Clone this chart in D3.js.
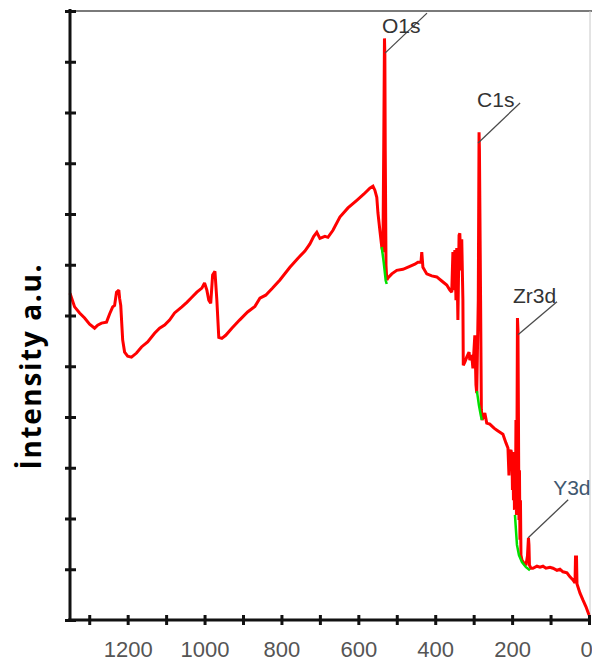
<!DOCTYPE html>
<html>
<head>
<meta charset="utf-8">
<script src="https://cdn.jsdelivr.net/npm/d3@7/dist/d3.min.js"></script>
<style>
  html, body { margin: 0; padding: 0; background: #fff; }
  svg { display: block; }
</style>
</head>
<body>
<svg id="chart" width="592" height="664"></svg>
<script>
// XPS survey spectrum: binding energy (eV) vs. intensity (kcounts, arbitrary units)
const bindingEnergy = [
  1350, 1338, 1325, 1312, 1299, 1286, 1278, 1268, 1255, 1247, 1239, 1234, 1229, 1223, 1221, 1218,
  1213, 1208, 1200, 1190, 1177, 1164, 1148, 1130, 1117, 1104, 1091, 1078, 1059, 1046, 1033, 1020,
  1007, 1000, 994, 989, 984, 979, 973, 968, 963, 955, 945, 929, 909, 888, 869, 856,
  841, 823, 804, 778, 757, 739, 726, 716, 708, 700, 687, 679, 666, 648, 627, 604,
  586, 570, 562, 557, 552, 549, 544, 539, 536, 534, 532, 531, 530, 528, 526, 523,
  513, 500, 484, 466, 453, 445, 437, 435, 432, 422, 409, 396, 383, 370, 362, 357,
  354, 351, 349, 346, 344, 341, 338, 336, 333, 331, 328, 327, 323, 318, 312, 310,
  305, 302, 297, 294, 292, 288, 286, 285, 282, 280, 278, 271, 266, 258, 247, 239.5,
  231.7, 223.9, 216, 210.8, 208.2, 205.6, 203, 200.4, 199.1, 197.8, 196.5, 195.2, 193.9, 192.6, 191.3,
  190, 188.7, 187.4, 186.1, 184.8, 183.5, 182.2, 180.9, 179.6, 178.3, 177, 174.4, 169.2, 164,
  160.1, 157.5, 156.2, 154.9, 151, 145.8, 135.4, 127.5, 119.7, 111.9, 101.5, 93.7, 83.3, 75.5,
  67.7, 57.3, 49.5, 41.6, 36.4, 35.1, 32.5, 31.2, 23.4, 15.6, 7.8, 0
];
const intensity = [
  64.4, 61.7, 60.5, 59.5, 58.3, 57.5, 58.1, 58.5, 58.7, 60.3, 61.7, 62.0, 64.6, 65.0, 63.4, 62.0,
  55.2, 52.8, 52.0, 51.8, 52.6, 53.8, 54.8, 56.5, 57.5, 58.1, 59.1, 60.5, 61.7, 62.6, 63.6, 64.6,
  65.4, 66.4, 65.0, 63.0, 62.4, 68.0, 68.7, 63.0, 55.7, 55.5, 56.1, 57.5, 59.1, 60.7, 61.8, 63.4,
  64.0, 65.4, 67.0, 69.5, 71.3, 72.7, 74.1, 75.6, 76.4, 75.2, 75.6, 75.4, 76.8, 79.4, 81.2, 82.7,
  83.9, 85.1, 85.5, 84.7, 83.3, 80.2, 76.8, 73.5, 72.5, 92.6, 114.6, 111.3, 92.6, 69.9, 67.0, 67.4,
  68.2, 68.9, 69.1, 69.7, 70.1, 70.5, 70.5, 72.5, 69.5, 68.2, 67.8, 67.6, 66.8, 66.0, 65.0, 64.6,
  72.5, 65.0, 72.9, 63.0, 73.3, 59.1, 75.8, 76.2, 68.9, 75.0, 63.0, 50.2, 50.8, 51.8, 52.8, 51.2,
  52.2, 49.6, 56.1, 46.3, 44.7, 63.0, 96.1, 92.6, 63.0, 41.4, 39.4, 40.8, 38.8, 38.6, 37.8, 37.4,
  37.0, 36.6, 34.9, 33.9, 28.5, 33.1, 33.5, 32.5, 25.6, 33.1, 23.6, 31.5, 21.7, 32.5, 22.7,
  39.4, 20.7, 35.5, 59.5, 57.1, 39.4, 19.7, 29.5, 15.8, 23.6, 12.8, 11.8, 11.2, 10.8,
  12.6, 16.2, 14.8, 10.8, 10.2, 10.2, 10.6, 10.4, 10.6, 10.2, 10.4, 10.2, 9.8, 10.0,
  9.5, 9.3, 8.5, 7.9, 7.3, 12.4, 12.4, 7.1, 5.3, 3.9, 2.6, 1.0
];

// Background lines under the fitted peak regions
const bgO1sBE = [539.2, 534, 528.8, 526.2];
const bgO1sI = [73.5, 70.5, 66.9, 66.2];
const bgC1sBE = [291.5, 286.3, 281.1, 278.5];
const bgC1sI = [45.1, 42.3, 40.2, 39.4];
const bgZrBE = [192.6, 190, 187.4, 182.2, 174.4, 164, 153.6];
const bgZrI = [20.7, 17.7, 14.8, 12.8, 11.4, 10.4, 9.8];

// Peak labels and the point each leader line starts from
const peakNames = ["O1s", "C1s", "Zr3d", "Y3d"];
const peakBE = [530.6, 288.5, 184.7, 158.2];
const peakI = [111.7, 94.0, 56.2, 16.2];

// Axis ticks
const xTicks = d3.range(0, 1301, 100);
const xLabelTicks = [1200, 1000, 800, 600, 400, 200, 0];
const yTicks = d3.range(0, 121, 10);

const svg = d3.select("#chart");

const x = d3.scaleLinear().domain([1350, 0]).range([70, 589]);
const y = d3.scaleLinear().domain([0, 120]).range([620, 11]);

// frame (top and right)
svg.append("line").attr("x1", 70).attr("x2", 592).attr("y1", 11).attr("y2", 11)
  .attr("stroke", "#7a7a7a").attr("stroke-width", 2);
svg.append("line").attr("x1", 590).attr("x2", 590).attr("y1", 11).attr("y2", 620)
  .attr("stroke", "#c8c8c8").attr("stroke-width", 1);

// spectrum
const line = d3.line().x(d => x(d[0])).y(d => y(d[1]));
const spectrum = bindingEnergy.map((b, i) => [b, intensity[i]]);
svg.append("path").datum(spectrum)
  .attr("d", line)
  .attr("fill", "none")
  .attr("stroke", "#ff0000")
  .attr("stroke-width", 3)
  .attr("stroke-linejoin", "miter")
  .attr("stroke-miterlimit", 2);

// backgrounds
[[bgO1sBE, bgO1sI], [bgC1sBE, bgC1sI], [bgZrBE, bgZrI]].forEach(([be, it]) => {
  svg.append("path").datum(be.map((b, i) => [b, it[i]]))
    .attr("d", line)
    .attr("fill", "none")
    .attr("stroke", "#00e000")
    .attr("stroke-width", 2.5);
});

// peak annotations
const leaderDx = [42, 42, 39, 40];
const leaderDy = [-40, -40, -33, -38];
const textDx = [-3, -1, -5, 25];
const textDy = [-20, -36, -32, -43];
const textFill = ["#333", "#333", "#333", "#3f5870"];
peakNames.forEach((name, i) => {
  const px = x(peakBE[i]), py = y(peakI[i]);
  svg.append("line")
    .attr("x1", px).attr("y1", py)
    .attr("x2", px + leaderDx[i]).attr("y2", py + leaderDy[i])
    .attr("stroke", "#4a4a4a").attr("stroke-width", 1.3);
  svg.append("text")
    .attr("x", px + textDx[i]).attr("y", py + textDy[i])
    .attr("font-family", "Liberation Sans, Arial, sans-serif")
    .attr("font-size", 21)
    .attr("fill", textFill[i])
    .text(name);
});

// axes
const xAxis = d3.axisBottom(x)
  .tickValues(xTicks)
  .tickSize(5)
  .tickFormat(d => xLabelTicks.includes(d) ? d : "");
const gx = svg.append("g").attr("transform", "translate(0,620)").call(xAxis);
gx.select(".domain").attr("stroke", "#111").attr("stroke-width", 3)
  .attr("d", "M68,0H590");
gx.selectAll(".tick line").attr("y1", -5).attr("y2", 5)
  .attr("stroke", "#111").attr("stroke-width", 3);
gx.selectAll(".tick text")
  .attr("y", 37)
  .attr("dy", null)
  .attr("dx", d => d === 0 ? -3 : 0)
  .attr("font-family", "Liberation Sans, Arial, sans-serif")
  .attr("font-size", 22)
  .attr("fill", "#555");

const yAxis = d3.axisLeft(y).tickValues(yTicks).tickSize(5).tickFormat("");
const gy = svg.append("g").attr("transform", "translate(70,0)").call(yAxis);
gy.select(".domain").attr("stroke", "#111").attr("stroke-width", 3)
  .attr("d", "M0,9V621");
gy.selectAll(".tick line").attr("x1", -5).attr("x2", 6)
  .attr("stroke", "#111").attr("stroke-width", 3);

// y-axis title
svg.append("text")
  .attr("transform", "translate(41,367) rotate(-90)")
  .attr("text-anchor", "middle")
  .attr("font-family", "Open Sans, Liberation Sans, sans-serif")
  .attr("font-weight", 700)
  .attr("font-size", 28)
  .attr("textLength", 205)
  .attr("lengthAdjust", "spacing")
  .attr("fill", "#000")
  .text("İntensity a.u.");
</script>
</body>
</html>
